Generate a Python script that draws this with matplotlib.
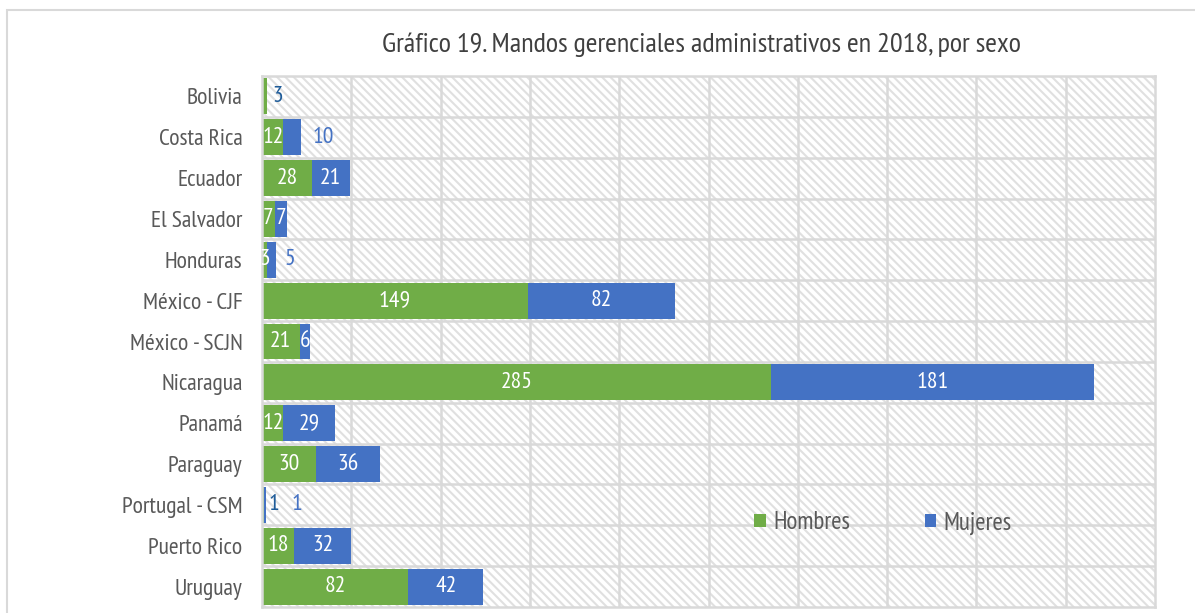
import matplotlib
matplotlib.use("Agg")
import matplotlib.pyplot as plt
from matplotlib.patches import Rectangle, Patch
import numpy as np

plt.rcParams['font.family'] = ['PT Sans Narrow', 'DejaVu Sans']
plt.rcParams['hatch.linewidth'] = 1.5

categories = ["Bolivia", "Costa Rica", "Ecuador", "El Salvador", "Honduras",
              "México - CJF", "México - SCJN", "Nicaragua", "Panamá", "Paraguay",
              "Portugal - CSM", "Puerto Rico", "Uruguay"]
hombres = [3, 12, 28, 7, 3, 149, 21, 285, 12, 30, 1, 18, 82]
mujeres = [0, 10, 21, 7, 5, 82, 6, 181, 29, 36, 1, 32, 42]
series_names = ["Hombres", "Mujeres"]
title = "Gráfico 19. Mandos gerenciales administrativos en 2018, por sexo"

GREEN = "#70AD47"
BLUE = "#4472C4"
DARKBLUE = "#1F5C99"
GRID = "#D9D9D9"
TXT = "#595959"

fig = plt.figure(figsize=(11.95, 6.13), dpi=100)
# outer chart border
fig.patches.append(Rectangle((7/1195, -0.1), 1.2, 1 - 10/613 + 0.1, transform=fig.transFigure,
                             facecolor='none', edgecolor=GRID, lw=1.5))

ax = fig.add_axes([262/1195, 1 - 607/613, (1155-262)/1195, (607-76)/613])
ax.set_xlim(0, 500)
n = len(categories)
ax.set_ylim(n - 0.5, -0.5)

# hatched background
ax.add_patch(Rectangle((0, 0), 1, 1, transform=ax.transAxes, facecolor='white',
                       edgecolor='#E0E0E0', hatch='\\\\\\\\', lw=0, zorder=0))
for xv in np.arange(50, 500, 50):
    ax.axvline(xv, color=GRID, lw=1.8, zorder=1)
for yv in np.arange(0.5, n - 0.5, 1):
    ax.axhline(yv, color=GRID, lw=1.8, zorder=1)
for s in ax.spines.values():
    s.set_color(GRID)
    s.set_linewidth(1.8)

y = np.arange(n)
h = np.array(hombres, dtype=float)
m = np.array(mujeres, dtype=float)
bh = 0.88
ax.barh(y, h, height=bh, color=GREEN, zorder=2)
ax.barh(y, m, left=h, height=bh, color=BLUE, zorder=2)

ax.set_xticks([])
ax.set_yticks(y)
ax.set_yticklabels(categories, fontsize=17, color=TXT)
ax.tick_params(axis='y', length=0, pad=14)

# labels placed outside the bar end: (row, series) -> offset in px from bar end, colour
outside = {(0, 0): (10, DARKBLUE), (1, 1): (22, BLUE), (4, 1): (14, BLUE),
           (10, 0): (8.5, DARKBLUE), (10, 1): (31.5, BLUE)}
for i in range(n):
    tot = h[i] + m[i]
    for sidx, (vals, left) in enumerate([(h, 0.0), (m, h)]):
        v = vals[i]
        lv = left if np.isscalar(left) else left[i]
        if v <= 0:
            continue
        if (i, sidx) in outside:
            off, col = outside[(i, sidx)]
            ax.annotate(f"{int(v)}", xy=(tot, i), xytext=(off * 0.72, 0),
                        textcoords='offset points', ha='center', va='center',
                        fontsize=17, color=col, zorder=4)
        else:
            ax.text(lv + v / 2, i, f"{int(v)}", ha='center', va='center',
                    fontsize=17, color='white', zorder=4)

handles = [Patch(facecolor=GREEN, edgecolor='none'), Patch(facecolor=BLUE, edgecolor='none')]
fig.legend(handles, series_names, loc='center', bbox_to_anchor=(883/1195, 1 - 523/613),
           ncol=2, frameon=False, fontsize=18, labelcolor=TXT,
           handlelength=0.45, handleheight=0.45, handletextpad=0.3, columnspacing=3.0)

fig.text(701/1195, 1 - 45/613, title, ha='center', va='center', fontsize=20.4, color='#404040')

fig.savefig("out.png", dpi=100)
